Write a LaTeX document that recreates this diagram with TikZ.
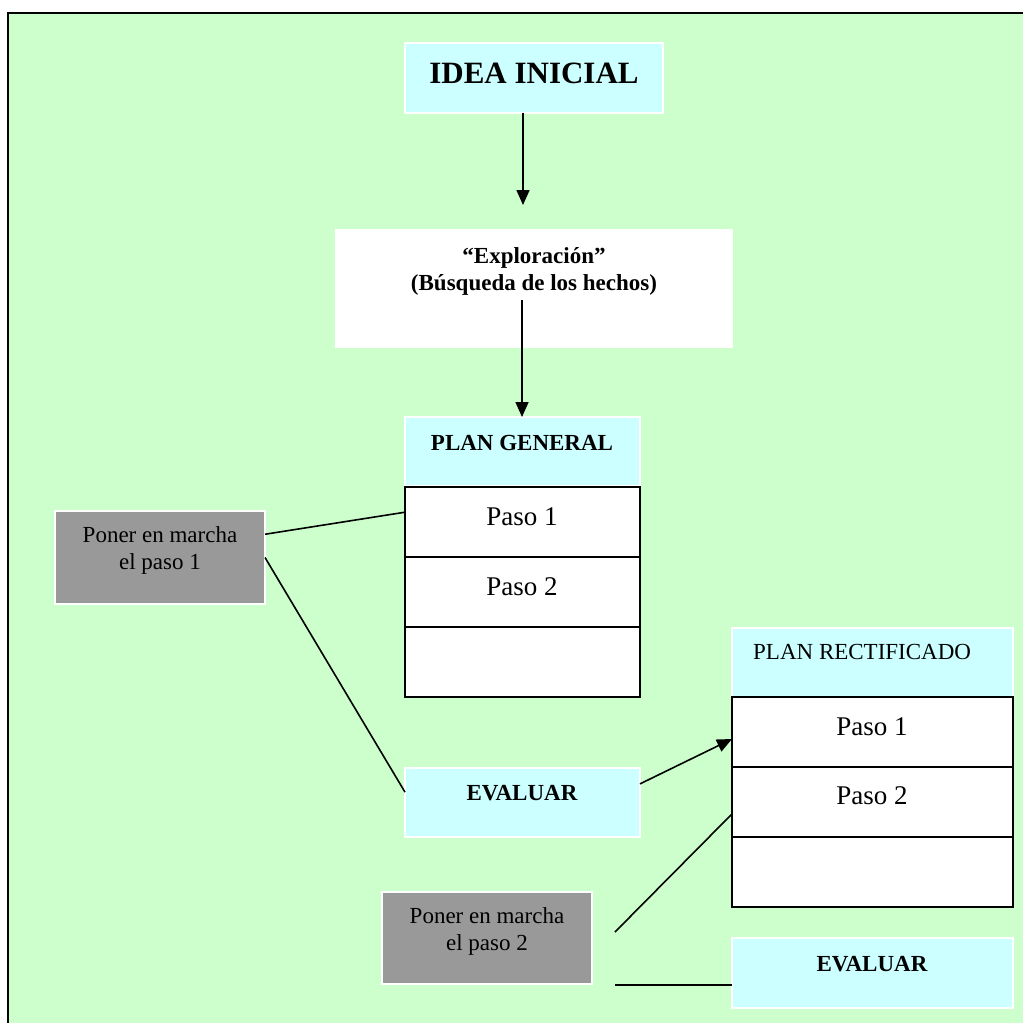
\documentclass[tikz,border=0pt]{standalone}
\usepackage{fontspec}
\setmainfont{Liberation Serif}
\usetikzlibrary{arrows.meta,calc}
\definecolor{bggreen}{HTML}{CCFFCC}
\definecolor{boxcyan}{HTML}{CCFFFF}
\definecolor{boxgrey}{HTML}{999999}
\tikzset{
  basebox/.style={rectangle, inner sep=0pt, outer sep=0pt, anchor=north west},
  cyanbox/.style={basebox, fill=boxcyan, draw=white, line width=1.2pt},
  whitebox/.style={basebox, fill=white},
  greybox/.style={basebox, fill=boxgrey, draw=white, line width=1.2pt},
  cellbox/.style={basebox, fill=white, draw=black, line width=2pt},
  txt/.style={anchor=base, inner sep=0pt, font=\fontsize{23}{27}\selectfont},
  btxt/.style={txt, font=\fontsize{23}{27}\selectfont\bfseries},
  pasotxt/.style={anchor=base, inner sep=0pt, font=\fontsize{27}{31}\selectfont},
  conn/.style={draw=black, line width=1.6pt},
  arr/.style={conn, -{Triangle[length=15pt,width=13pt]}},
}
\begin{document}
\begin{tikzpicture}[x=1pt,y=-1pt]
\useasboundingbox (0,0) rectangle (1023,1023);
\fill[bggreen] (8,13) rectangle (1023,1023);
\draw[line width=2.2pt] (8,1023) -- (8,13) -- (1023,13);

% boxes
\node[cyanbox, minimum width=258, minimum height=70] (idea) at (405,43) {};
\node[whitebox, minimum width=398, minimum height=119] (explo) at (335,229) {};
\node[cyanbox, minimum width=235, minimum height=69] (pg) at (405,417) {};
\node[cellbox, minimum width=235, minimum height=70] (pg1) at (405,487) {};
\node[cellbox, minimum width=235, minimum height=70] (pg2) at (405,557) {};
\node[cellbox, minimum width=235, minimum height=70] (pg3) at (405,627) {};
\node[greybox, minimum width=210, minimum height=93] (grey1) at (55,511) {};
\node[cyanbox, minimum width=235, minimum height=69] (ev1) at (405,768) {};
\node[cyanbox, minimum width=281, minimum height=69] (pr) at (732,628) {};
\node[cellbox, minimum width=281, minimum height=70] (pr1) at (732,697) {};
\node[cellbox, minimum width=281, minimum height=70] (pr2) at (732,767) {};
\node[cellbox, minimum width=281, minimum height=70] (pr3) at (732,837) {};
\node[greybox, minimum width=210, minimum height=92] (grey2) at (382,892) {};
\node[cyanbox, minimum width=281, minimum height=70] (ev2) at (732,938) {};

% texts
\node[anchor=base, inner sep=0pt, font=\fontsize{31}{36}\selectfont\bfseries] (ideat) at (534,83) {IDEA INICIAL};
\node[btxt] (explot1) at (534,263) {“Exploración”};
\node[btxt] (explot2) at (534,290) {(Búsqueda de los hechos)};
\node[btxt] (pgt) at (522,450) {PLAN GENERAL};
\node[pasotxt] (pg1t) at (522,525) {Paso 1};
\node[pasotxt] (pg2t) at (522,595) {Paso 2};
\node[txt] (grey1t1) at (160,542) {Poner en marcha};
\node[txt] (grey1t2) at (160,569) {el paso 1};
\node[btxt] (ev1t) at (522,800) {EVALUAR};
\node[txt, anchor=base west] (prt) at (753,659) {PLAN RECTIFICADO};
\node[pasotxt] (pr1t) at (872,735) {Paso 1};
\node[pasotxt] (pr2t) at (872,804) {Paso 2};
\node[txt] (grey2t1) at (487,923) {Poner en marcha};
\node[txt] (grey2t2) at (487,950) {el paso 2};
\node[btxt] (ev2t) at (872,971) {EVALUAR};

% connectors
\coordinate (a1) at (523,205);
\draw[arr] (idea.south -| a1) -- (a1);
\coordinate (e1) at (522,300);
\draw[arr] (e1) -- (e1 |- pg.north);
\draw[conn] ($(grey1.north east)!0.25!(grey1.south east)$) -- ($(pg1.north west)!0.36!(pg1.south west)$);
\draw[conn] (grey1.east) -- ($(ev1.north west)!0.35!(ev1.south west)$);
\draw[arr] ($(ev1.north east)!0.23!(ev1.south east)$) -- ($(pr1.north west)!0.6!(pr1.south west)$);
\coordinate (g2a) at (615,932);
\coordinate (g2b) at (615,985);
\draw[conn] (g2a) -- ($(pr2.north west)!0.67!(pr2.south west)$);
\draw[conn] (g2b) -- (g2b -| ev2.west);
\end{tikzpicture}
\end{document}
